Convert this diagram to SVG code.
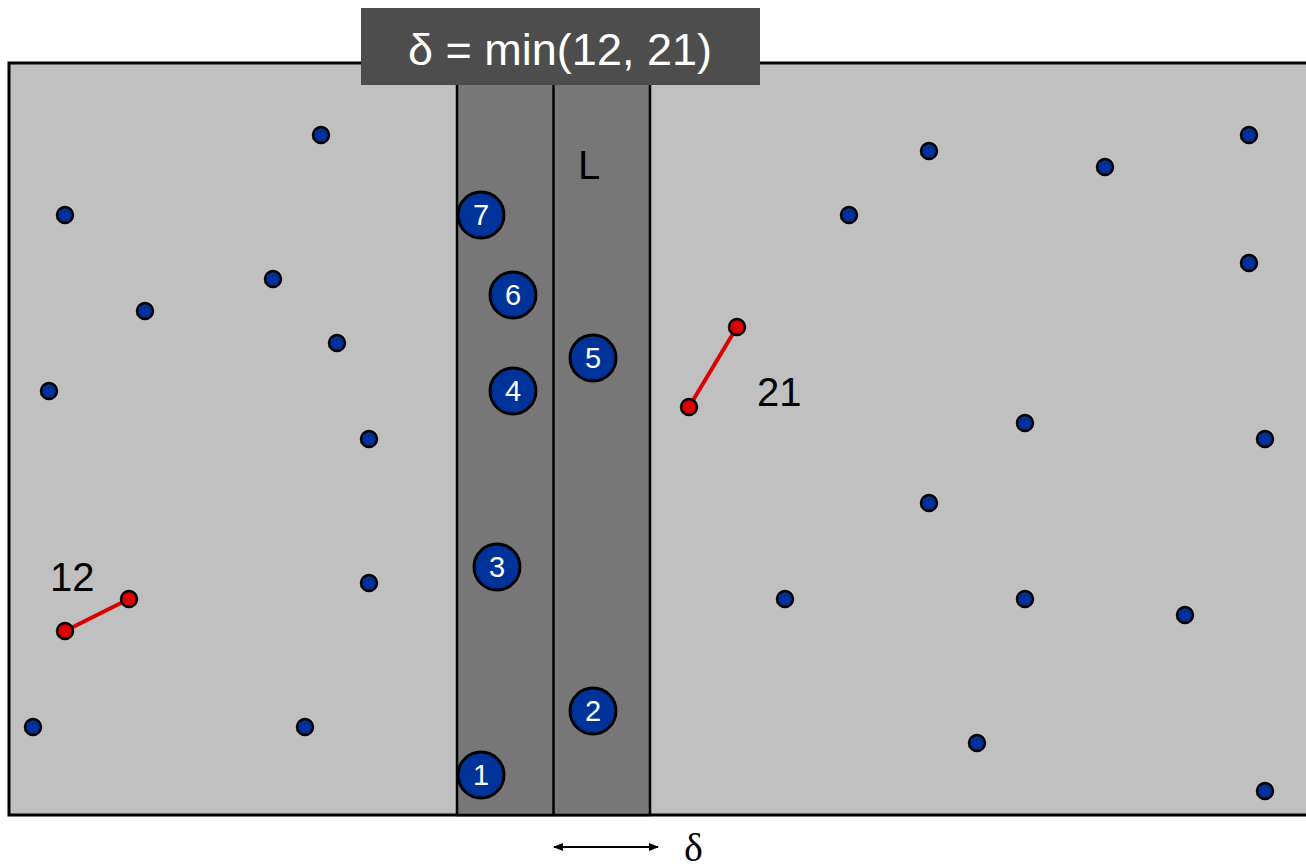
<svg xmlns="http://www.w3.org/2000/svg" width="1306" height="868" viewBox="0 0 1306 868">
<style>
.dot{fill:#003399;stroke:#000;stroke-width:2.5}
.red{fill:#dd0000;stroke:#000;stroke-width:2.5}
.big{fill:#003399;stroke:#000;stroke-width:3}
.num{font-family:"Comic Sans MS","Liberation Sans",sans-serif;font-size:29px;fill:#fff;text-anchor:middle}
.lbl{font-family:"Comic Sans MS","Liberation Sans",sans-serif;font-size:40px;fill:#000}
</style>
<defs>
<marker id="ah" viewBox="0 0 10 10" refX="9" refY="5" markerWidth="10" markerHeight="10" markerUnits="userSpaceOnUse" orient="auto-start-reverse">
<path d="M0,1 L10,5 L0,9 Z" fill="#000"/>
</marker>
</defs>
<g id="background">
<rect x="9" y="63" width="1310" height="752" fill="#c0c0c0" stroke="#000" stroke-width="3"/>
</g>
<g id="strip">
<rect x="457" y="63" width="193" height="752" fill="#777777" stroke="#000" stroke-width="2.5"/>
<line x1="553.5" y1="63" x2="553.5" y2="815" stroke="#000" stroke-width="2.5"/>
</g>
<g id="title">
<rect x="361" y="8" width="399" height="77" fill="#4d4d4d"/>
<text x="560" y="65" font-family="'Comic Sans MS','Liberation Sans',sans-serif" font-size="45" fill="#fff" text-anchor="middle">δ = min(12, 21)</text>
</g>
<g id="label-L"><text class="lbl" x="578" y="179">L</text></g>
<g id="left-points">
<circle class="dot" cx="321" cy="135" r="8"/>
<circle class="dot" cx="65" cy="215" r="8"/>
<circle class="dot" cx="273" cy="279" r="8"/>
<circle class="dot" cx="145" cy="311" r="8"/>
<circle class="dot" cx="337" cy="343" r="8"/>
<circle class="dot" cx="49" cy="391" r="8"/>
<circle class="dot" cx="369" cy="439" r="8"/>
<circle class="dot" cx="369" cy="583" r="8"/>
<circle class="dot" cx="33" cy="727" r="8"/>
<circle class="dot" cx="305" cy="727" r="8"/>
</g>
<g id="right-points">
<circle class="dot" cx="929" cy="151" r="8"/>
<circle class="dot" cx="1105" cy="167" r="8"/>
<circle class="dot" cx="1249" cy="135" r="8"/>
<circle class="dot" cx="849" cy="215" r="8"/>
<circle class="dot" cx="1249" cy="263" r="8"/>
<circle class="dot" cx="1025" cy="423" r="8"/>
<circle class="dot" cx="1265" cy="439" r="8"/>
<circle class="dot" cx="929" cy="503" r="8"/>
<circle class="dot" cx="785" cy="599" r="8"/>
<circle class="dot" cx="1025" cy="599" r="8"/>
<circle class="dot" cx="1185" cy="615" r="8"/>
<circle class="dot" cx="977" cy="743" r="8"/>
<circle class="dot" cx="1265" cy="791" r="8"/>
</g>
<g id="connectors">
<line x1="65" y1="631" x2="129" y2="599" stroke="#dd0000" stroke-width="4"/>
<line x1="689" y1="407" x2="737" y2="327" stroke="#dd0000" stroke-width="4"/>
<line x1="554" y1="847" x2="658" y2="847" stroke="#000" stroke-width="2" marker-start="url(#ah)" marker-end="url(#ah)"/>
</g>
<g id="pair-12">
<circle class="red" cx="65" cy="631" r="8"/>
<circle class="red" cx="129" cy="599" r="8"/>
<text class="lbl" x="50" y="591">12</text>
</g>
<g id="pair-21">
<circle class="red" cx="689" cy="407" r="8"/>
<circle class="red" cx="737" cy="327" r="8"/>
<text class="lbl" x="757" y="406">21</text>
</g>
<g id="p7"><circle class="big" cx="481" cy="215" r="23"/><text class="num" x="481" y="225">7</text></g>
<g id="p6"><circle class="big" cx="513" cy="295" r="23"/><text class="num" x="513" y="305">6</text></g>
<g id="p5"><circle class="big" cx="593" cy="358" r="23"/><text class="num" x="593" y="368">5</text></g>
<g id="p4"><circle class="big" cx="513" cy="391" r="23"/><text class="num" x="513" y="401">4</text></g>
<g id="p3"><circle class="big" cx="497" cy="567" r="23"/><text class="num" x="497" y="577">3</text></g>
<g id="p2"><circle class="big" cx="593" cy="711" r="23"/><text class="num" x="593" y="721">2</text></g>
<g id="p1"><circle class="big" cx="481" cy="775" r="23"/><text class="num" x="481" y="785">1</text></g>
<g id="delta-label"><text x="684" y="861" font-family="'Liberation Serif',serif" font-size="40" fill="#000">δ</text></g>
</svg>
